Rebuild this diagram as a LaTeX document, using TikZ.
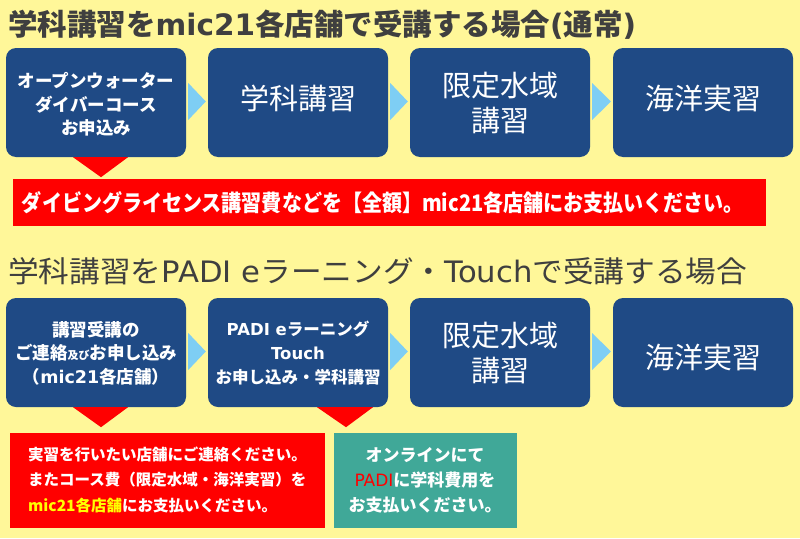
\documentclass[tikz,border=0pt]{standalone}
\usepackage{fontspec}
\usetikzlibrary{calc}
\newfontfamily\jp{Noto Sans CJK JP}
\newfontfamily\lat{DejaVu Sans}
\definecolor{bg}{HTML}{FFF799}
\definecolor{boxblue}{HTML}{1F4A85}
\definecolor{arrowblue}{HTML}{7ECEF4}
\definecolor{titlegray}{HTML}{3F3F3F}
\definecolor{tealbox}{HTML}{40A898}
\definecolor{redc}{HTML}{FF0000}
\definecolor{yellowtxt}{HTML}{FFFF00}
\begin{document}
\begin{tikzpicture}[x=1pt,y=-1pt,
  stepbox/.style={fill=boxblue, rounded corners=10pt, minimum width=180pt, minimum height=109pt, inner sep=0pt},
  small/.style={text=white, align=center, inner sep=0pt, font=\jp\bfseries\fontsize{17.5}{23.5}\selectfont},
  big/.style={text=white, align=center, inner sep=0pt, font=\jp\fontsize{29}{35}\selectfont},
  title/.style={text=titlegray, anchor=west, inner sep=0pt},
  flowarrow/.style={fill=arrowblue},
  downarrow/.style={fill=redc}]
\fill[bg] (0,0) rectangle (800,538);
\useasboundingbox (0,0) rectangle (800,538);

% titles
\node[title, font=\jp\bfseries\fontsize{29.5}{29.5}\selectfont] (t1) at (8,25) {学科講習を{\lat\bfseries mic21}各店舗で受講する場合{\lat\bfseries (}通常{\lat\bfseries )}};
\node[title, font=\jp\fontsize{29.5}{29.5}\selectfont] (t2) at (8,271.5) {\scalebox{1.04}[1]{学科講習を{\lat PADI e}ラーニング・{\lat Touch}で受講する場合}};

% row 1
\node[stepbox] (a1) at (96,102.5) {};
\node[stepbox] (a2) at (298,102.5) {};
\node[stepbox] (a3) at (500,102.5) {};
\node[stepbox] (a4) at (703,102.5) {};
\node[small] (a1t) at (96,104.5) {オープンウォーター\\ダイバーコース\\お申込み};
\node[big] (a2t) at (298,98.5) {学科講習};
\node[big] (a3t) at (500,103.5) {限定水域\\講習};
\node[big] (a4t) at (703,98.5) {海洋実習};

\foreach \p/\q in {a1/a2,a2/a3,a3/a4}{
  \fill[flowarrow] ($(\p.east)+(2,-19.5)$) -- ($(\q.west)+(-2,-1)$) -- ($(\p.east)+(2,17.5)$) -- cycle;
}

\fill[downarrow] ($(a1.south)+(-23,0)$) -- ($(a1.south)+(32,0)$) -- ($(a1.south)+(5,20)$) -- cycle;

\node[fill=redc, minimum width=753pt, minimum height=47pt, inner sep=0pt] (banner) at (389.5,202.5) {};
\node[text=white, inner sep=0pt, font=\jp\bfseries\fontsize{21}{21}\selectfont] (bannert) at (383,203) {\resizebox{722pt}{20pt}{ダイビングライセンス講習費などを【全額】mic21各店舗にお支払いください。}};

% row 2
\node[stepbox] (b1) at (96,352.5) {};
\node[stepbox] (b2) at (298,352.5) {};
\node[stepbox] (b3) at (500,352.5) {};
\node[stepbox] (b4) at (703,352.5) {};
\node[small] (b1t) at (96,353) {講習受講の\\ご連絡{\fontsize{11}{11}\selectfont 及び}お申し込み\\（{\lat\bfseries mic21}各店舗）};
\node[small, font=\jp\bfseries\fontsize{16.5}{24}\selectfont] (b2t) at (298,353) {{\lat\bfseries PADI e}ラーニング\\{\lat\bfseries Touch}\\お申し込み・学科講習};
\node[big] (b3t) at (500,353) {限定水域\\講習};
\node[big] (b4t) at (703,357.5) {海洋実習};

\foreach \p/\q in {b1/b2,b2/b3,b3/b4}{
  \fill[flowarrow] ($(\p.east)+(2,-19.5)$) -- ($(\q.west)+(-2,-1)$) -- ($(\p.east)+(2,17.5)$) -- cycle;
}

\fill[downarrow] ($(b1.south)+(-23,0)$) -- ($(b1.south)+(32,0)$) -- ($(b1.south)+(5,20)$) -- cycle;
\fill[downarrow] ($(b2.south)+(19,0)$) -- ($(b2.south)+(75,0)$) -- ($(b2.south)+(48,20)$) -- cycle;

\node[fill=redc, minimum width=315pt, minimum height=95pt, inner sep=0pt] (note1) at (167.5,480.5) {};
\node[text=white, anchor=west, align=left, inner sep=0pt, font=\jp\bfseries\fontsize{15.5}{25.5}\selectfont] (note1t) at (28,479.5) {実習を行いたい店舗にご連絡ください。\\またコース費（限定水域・海洋実習）を\\\textcolor{yellowtxt}{mic21各店舗}にお支払いください。};

\node[fill=tealbox, minimum width=183pt, minimum height=95pt, inner sep=0pt] (note2) at (425.5,480.5) {};
\node[text=white, align=center, inner sep=0pt, font=\jp\bfseries\fontsize{17}{25}\selectfont] (note2t) at (425,480) {オンラインにて\\\textcolor{redc}{\lat\mdseries PADI}に学科費用を\\お支払いください。};
\end{tikzpicture}
\end{document}
